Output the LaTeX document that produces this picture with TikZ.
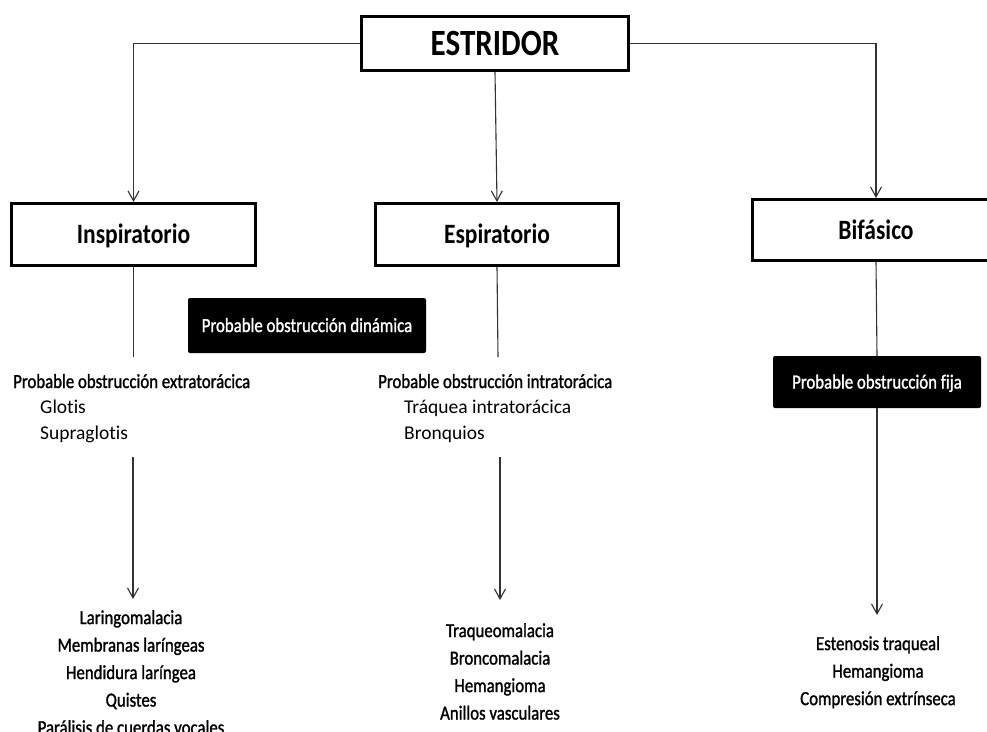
\documentclass[tikz,border=0pt]{standalone}
\usepackage{fontspec}
\setmainfont{Carlito}[FakeStretch=0.84,Ligatures=NoCommon,UprightFeatures={FakeBold=1.3}]
\newfontfamily\anchafont{Carlito}[Ligatures=NoCommon]
\usetikzlibrary{arrows.meta}

\begin{document}
\begin{tikzpicture}[x=1pt,y=-1pt,
		caja/.style={draw,line width=3pt,inner sep=0pt,font=\bfseries\fontsize{28}{28}\selectfont,text height=18pt,text depth=0pt},
		negra/.style={fill=black,text=white,rounded corners=2pt,inner sep=0pt,font=\fontsize{20}{20}\selectfont,text height=13pt,text depth=0pt},
		flecha/.style={draw=black!80,line width=1.1pt,-{Straight Barb[length=10pt,width=11pt]}},
		linea/.style={draw=black!80,line width=1.1pt},
		lista/.style={align=center,inner sep=0pt,anchor=north,font=\fontsize{20}{27.5}\selectfont},
		sub/.style={align=left,inner sep=0pt,anchor=north west,font=\anchafont\fontsize{19.5}{26}\selectfont}]
			\useasboundingbox (0,0) rectangle (987,731);
			
			% cajas principales
			\node[caja,minimum width=267pt,minimum height=54pt,font=\bfseries\fontsize{37}{37}\selectfont,text height=24pt] (estridor) at (495,43.5) {ESTRIDOR};
			\node[caja,minimum width=244pt,minimum height=62pt] (insp) at (133.5,234.5) {Inspiratorio};
			\node[caja,minimum width=243pt,minimum height=62pt] (esp) at (497,234.5) {Espiratorio};
			\node[caja,minimum width=248pt,minimum height=61pt] (bif) at (876,230) {Bifásico};
			
			% cajas negras
			\node[negra,minimum width=238pt,minimum height=55pt] (dinamica) at (307,325.5) {Probable obstrucción dinámica};
			\node[negra,minimum width=208pt,minimum height=52pt] (fija) at (877,382) {Probable obstrucción fija};
			
			% localizacion
			\node[inner sep=0pt,anchor=base west,font=\fontsize{20}{20}\selectfont] (extra) at (13,388) {Probable obstrucción extratorácica};
			\node[sub] (extrasub) at (40,400) {Glotis\\Supraglotis};
			\node[inner sep=0pt,anchor=base west,font=\fontsize{20}{20}\selectfont] (intra) at (378,388) {Probable obstrucción intratorácica};
			\node[sub] (intrasub) at (404,400) {Tráquea intratorácica\\Bronquios};
			
			% causas
			\node[lista] (causasi) at (131,610) {Laringomalacia\\Membranas laríngeas\\Hendidura laríngea\\Quistes\\Parálisis de cuerdas vocales};
			\node[lista] (causase) at (500,623) {Traqueomalacia\\Broncomalacia\\Hemangioma\\Anillos vasculares};
			\node[lista] (causasb) at (878,636) {Estenosis traqueal\\Hemangioma\\Compresión extrínseca};
			
			\coordinate (i1) at (133.5,357);
			\coordinate (i2) at (133,457);
			\coordinate (i3) at (133,599);
			\coordinate (e1) at (498,357);
			\coordinate (e2) at (500,457);
			\coordinate (e3) at (500,600);
			\coordinate (b1) at (877,615);
			
			\draw[flecha] (estridor.west) -| (insp.north);
			\draw[flecha] (estridor.south) -- (esp.north);
			\draw[flecha] (estridor.east) -| (bif.north);
			\draw[linea] (insp.south) -- (i1);
			\draw[flecha] (i2) -- (i3);
			\draw[linea] (esp.south) -- (e1);
			\draw[flecha] (e2) -- (e3);
			\draw[linea] (bif.south) -- (fija.north);
			\draw[flecha] (fija.south) -- (b1);
\end{tikzpicture}
\end{document}
